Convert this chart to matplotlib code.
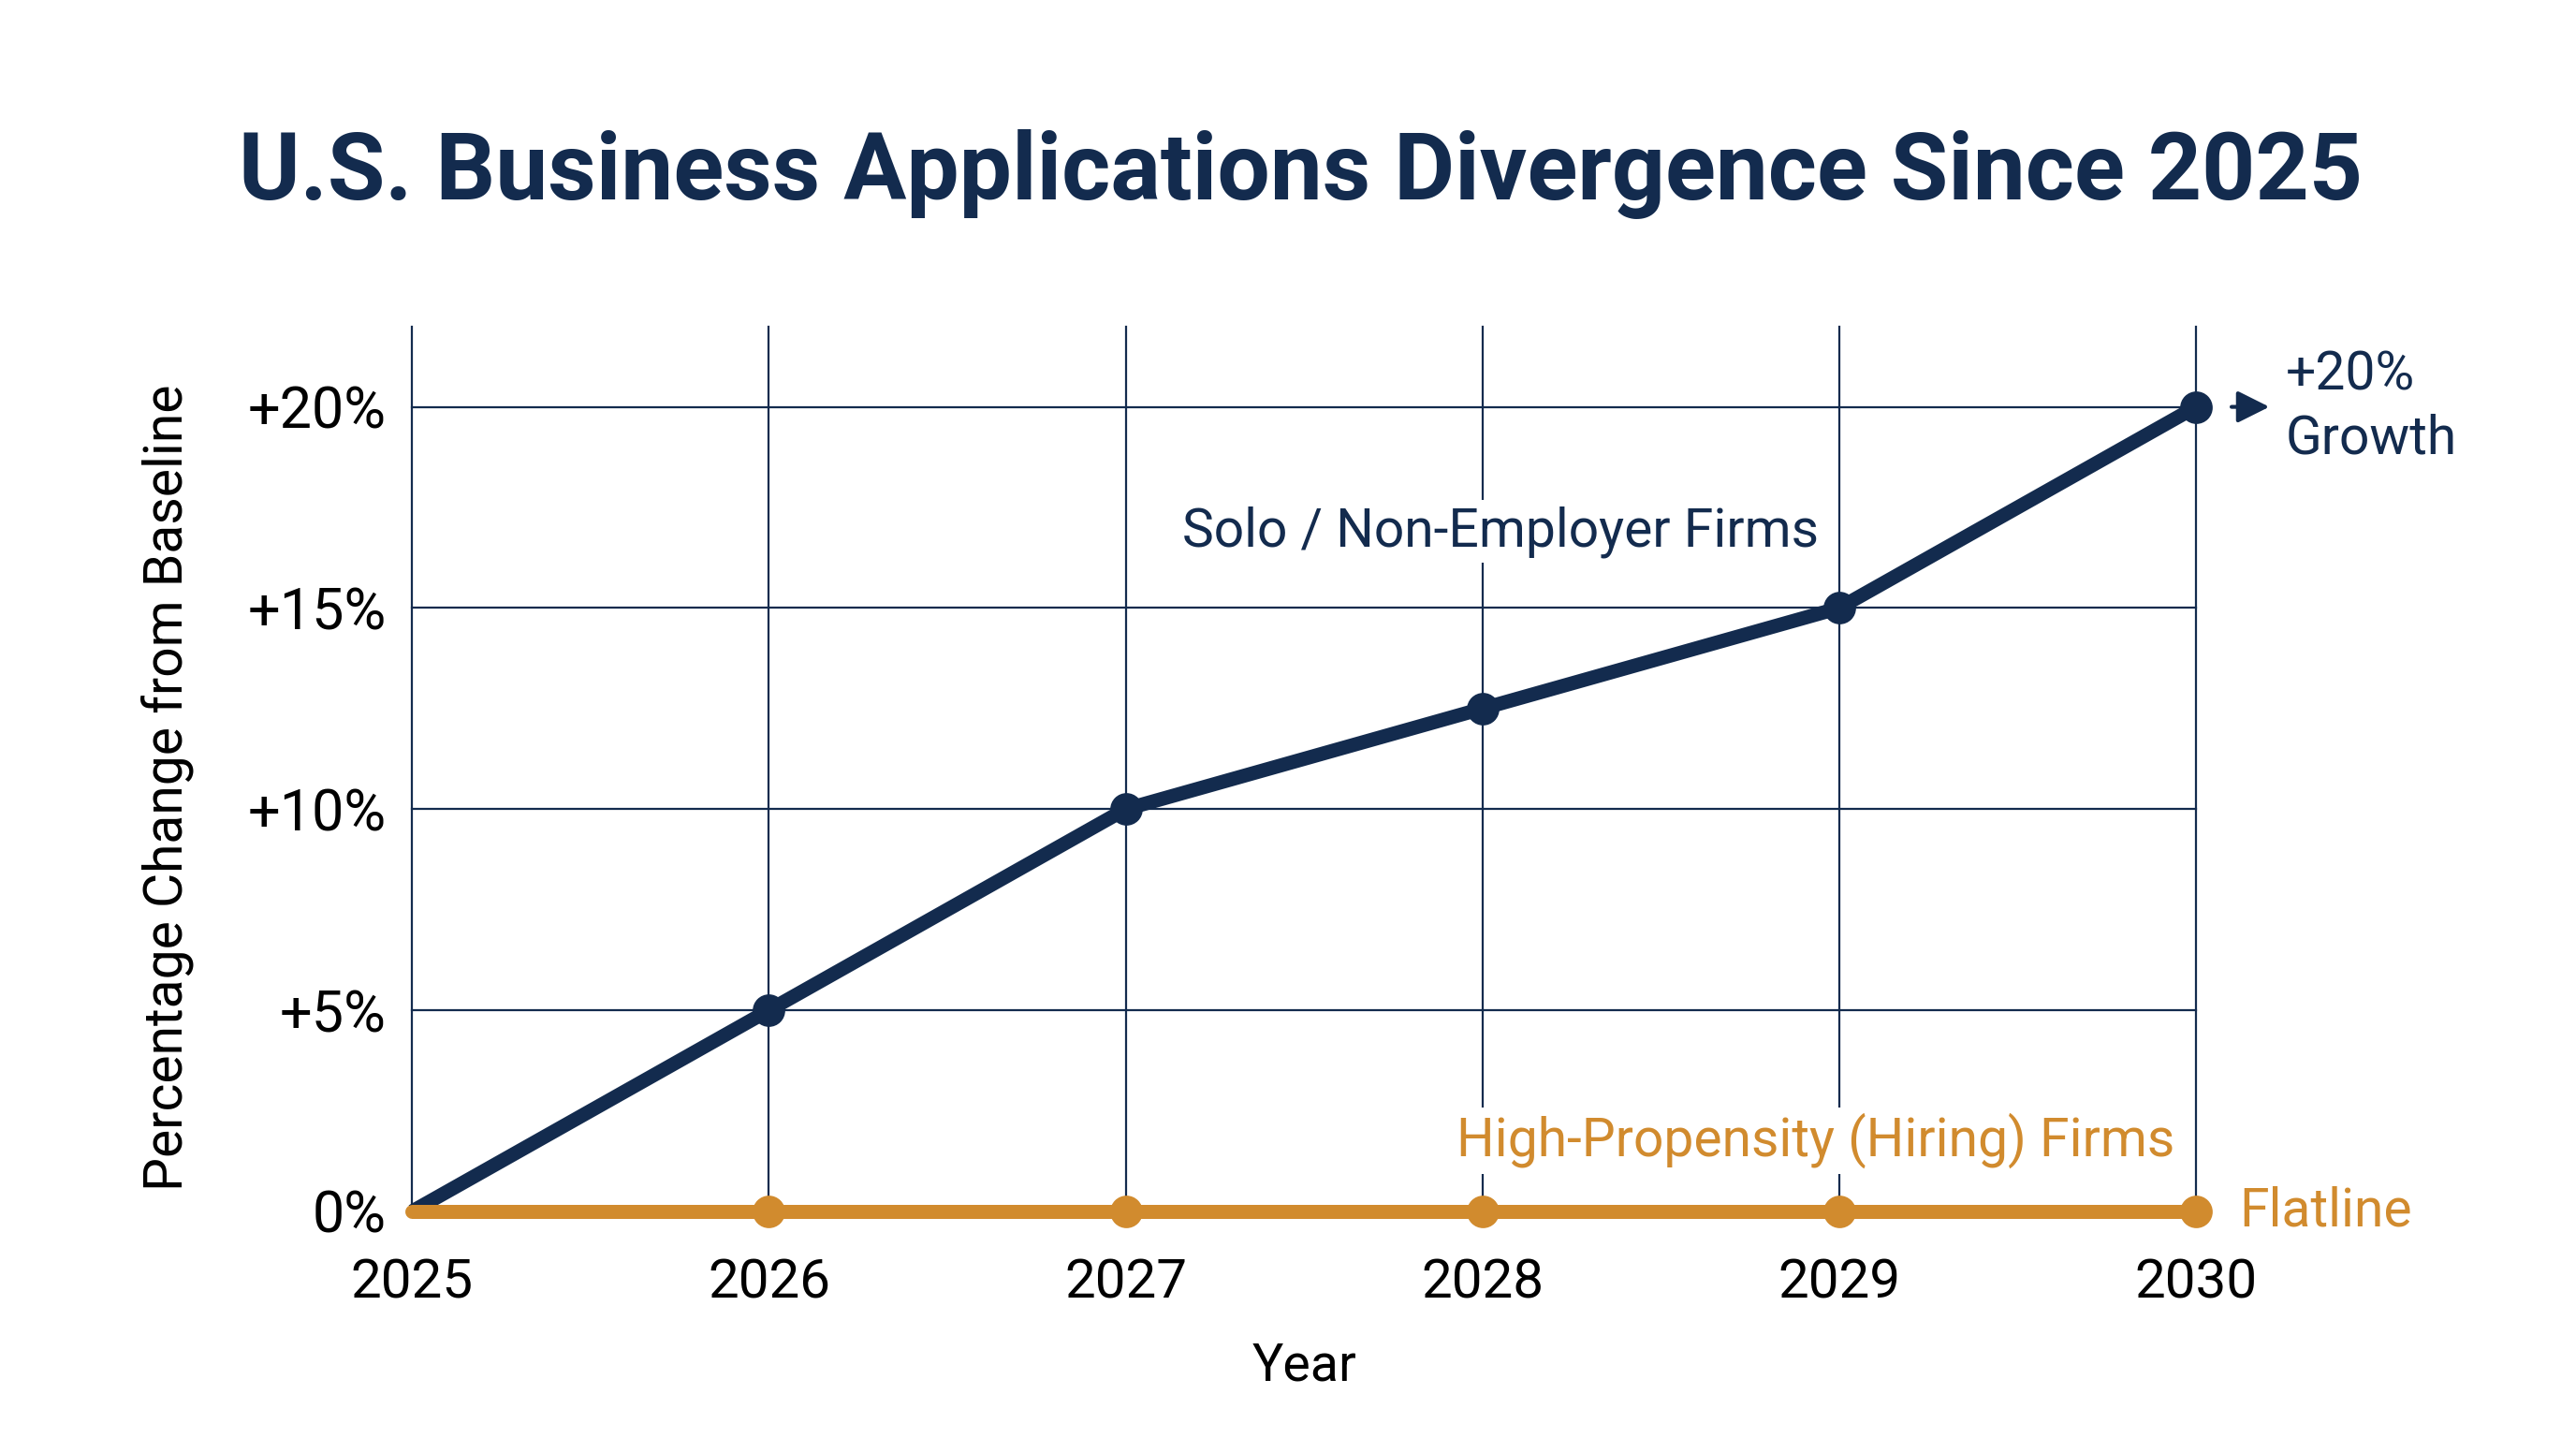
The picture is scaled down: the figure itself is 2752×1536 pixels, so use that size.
import matplotlib
matplotlib.use('Agg')
import matplotlib.pyplot as plt

plt.rcParams['font.family'] = ['Roboto', 'DejaVu Sans']

years = [2025, 2026, 2027, 2028, 2029, 2030]
solo = [0, 5, 10, 12.5, 15, 20]
hiring = [0, 0, 0, 0, 0, 0]
yticks = [0, 5, 10, 15, 20]
ytick_labels = ['0%', '+5%', '+10%', '+15%', '+20%']

navy = '#132b4e'
orange = '#d18b2e'

fig = plt.figure(figsize=(13.76, 7.68), dpi=200)
ax = fig.add_axes([0.160, 0.1576, 0.6925, 0.6154])

ax.set_xlim(2025, 2030)
ax.set_ylim(0, 22)
for s in ax.spines.values():
    s.set_visible(False)
ax.set_xticks(years)
ax.set_yticks(yticks)
ax.set_yticklabels(ytick_labels)
ax.tick_params(length=0, colors='black')
ax.tick_params(axis='y', labelsize=22, pad=10)
ax.tick_params(axis='x', labelsize=21, pad=18)
ax.grid(True, color=navy, linewidth=0.8)
ax.set_axisbelow(True)
for gl in ax.get_xgridlines() + ax.get_ygridlines():
    gl.set_clip_on(False)

# no marker at the 2025 baseline point
ax.plot(years, solo, color=navy, linewidth=5.4, marker='o', markersize=11.5,
        markevery=[1, 2, 3, 4, 5], clip_on=False, zorder=3,
        solid_capstyle='butt')
ax.plot(years, hiring, color=orange, linewidth=5.4, marker='o', markersize=11.5,
        markevery=[1, 2, 3, 4, 5], clip_on=False, zorder=4,
        solid_capstyle='round')

ax.text(2028.05, 16.9, 'Solo / Non-Employer Firms', color=navy, fontsize=20.5,
        ha='center', va='center', zorder=5,
        bbox=dict(facecolor='white', edgecolor='none', pad=2))
ax.text(2029.94, 1.75, 'High-Propensity (Hiring) Firms', color=orange,
        fontsize=20.5, ha='right', va='center', zorder=5,
        bbox=dict(facecolor='white', edgecolor='none', pad=2))
ax.text(2030.12, 0, 'Flatline', color=orange, fontsize=20.5, ha='left',
        va='center')
ax.annotate('', xy=(2030.22, 20), xytext=(2030.085, 20),
            arrowprops=dict(arrowstyle='-|>', color=navy, lw=1.5,
                            mutation_scale=26),
            annotation_clip=False)
ax.text(2030.25, 20.0, '+20%\nGrowth', color=navy, fontsize=20.5, ha='left',
        va='center', linespacing=1.3)

ax.set_xlabel('Year', fontsize=20, labelpad=12)
ax.set_ylabel('Percentage Change from Baseline', fontsize=20.5, va='center')
ax.yaxis.set_label_coords(-0.137, 0.479)

fig.text(0.505, 0.879, 'U.S. Business Applications Divergence Since 2025',
         fontsize=36, fontweight='bold', color=navy, ha='center',
         va='center')

fig.savefig('out.png', dpi=200, facecolor='white')
